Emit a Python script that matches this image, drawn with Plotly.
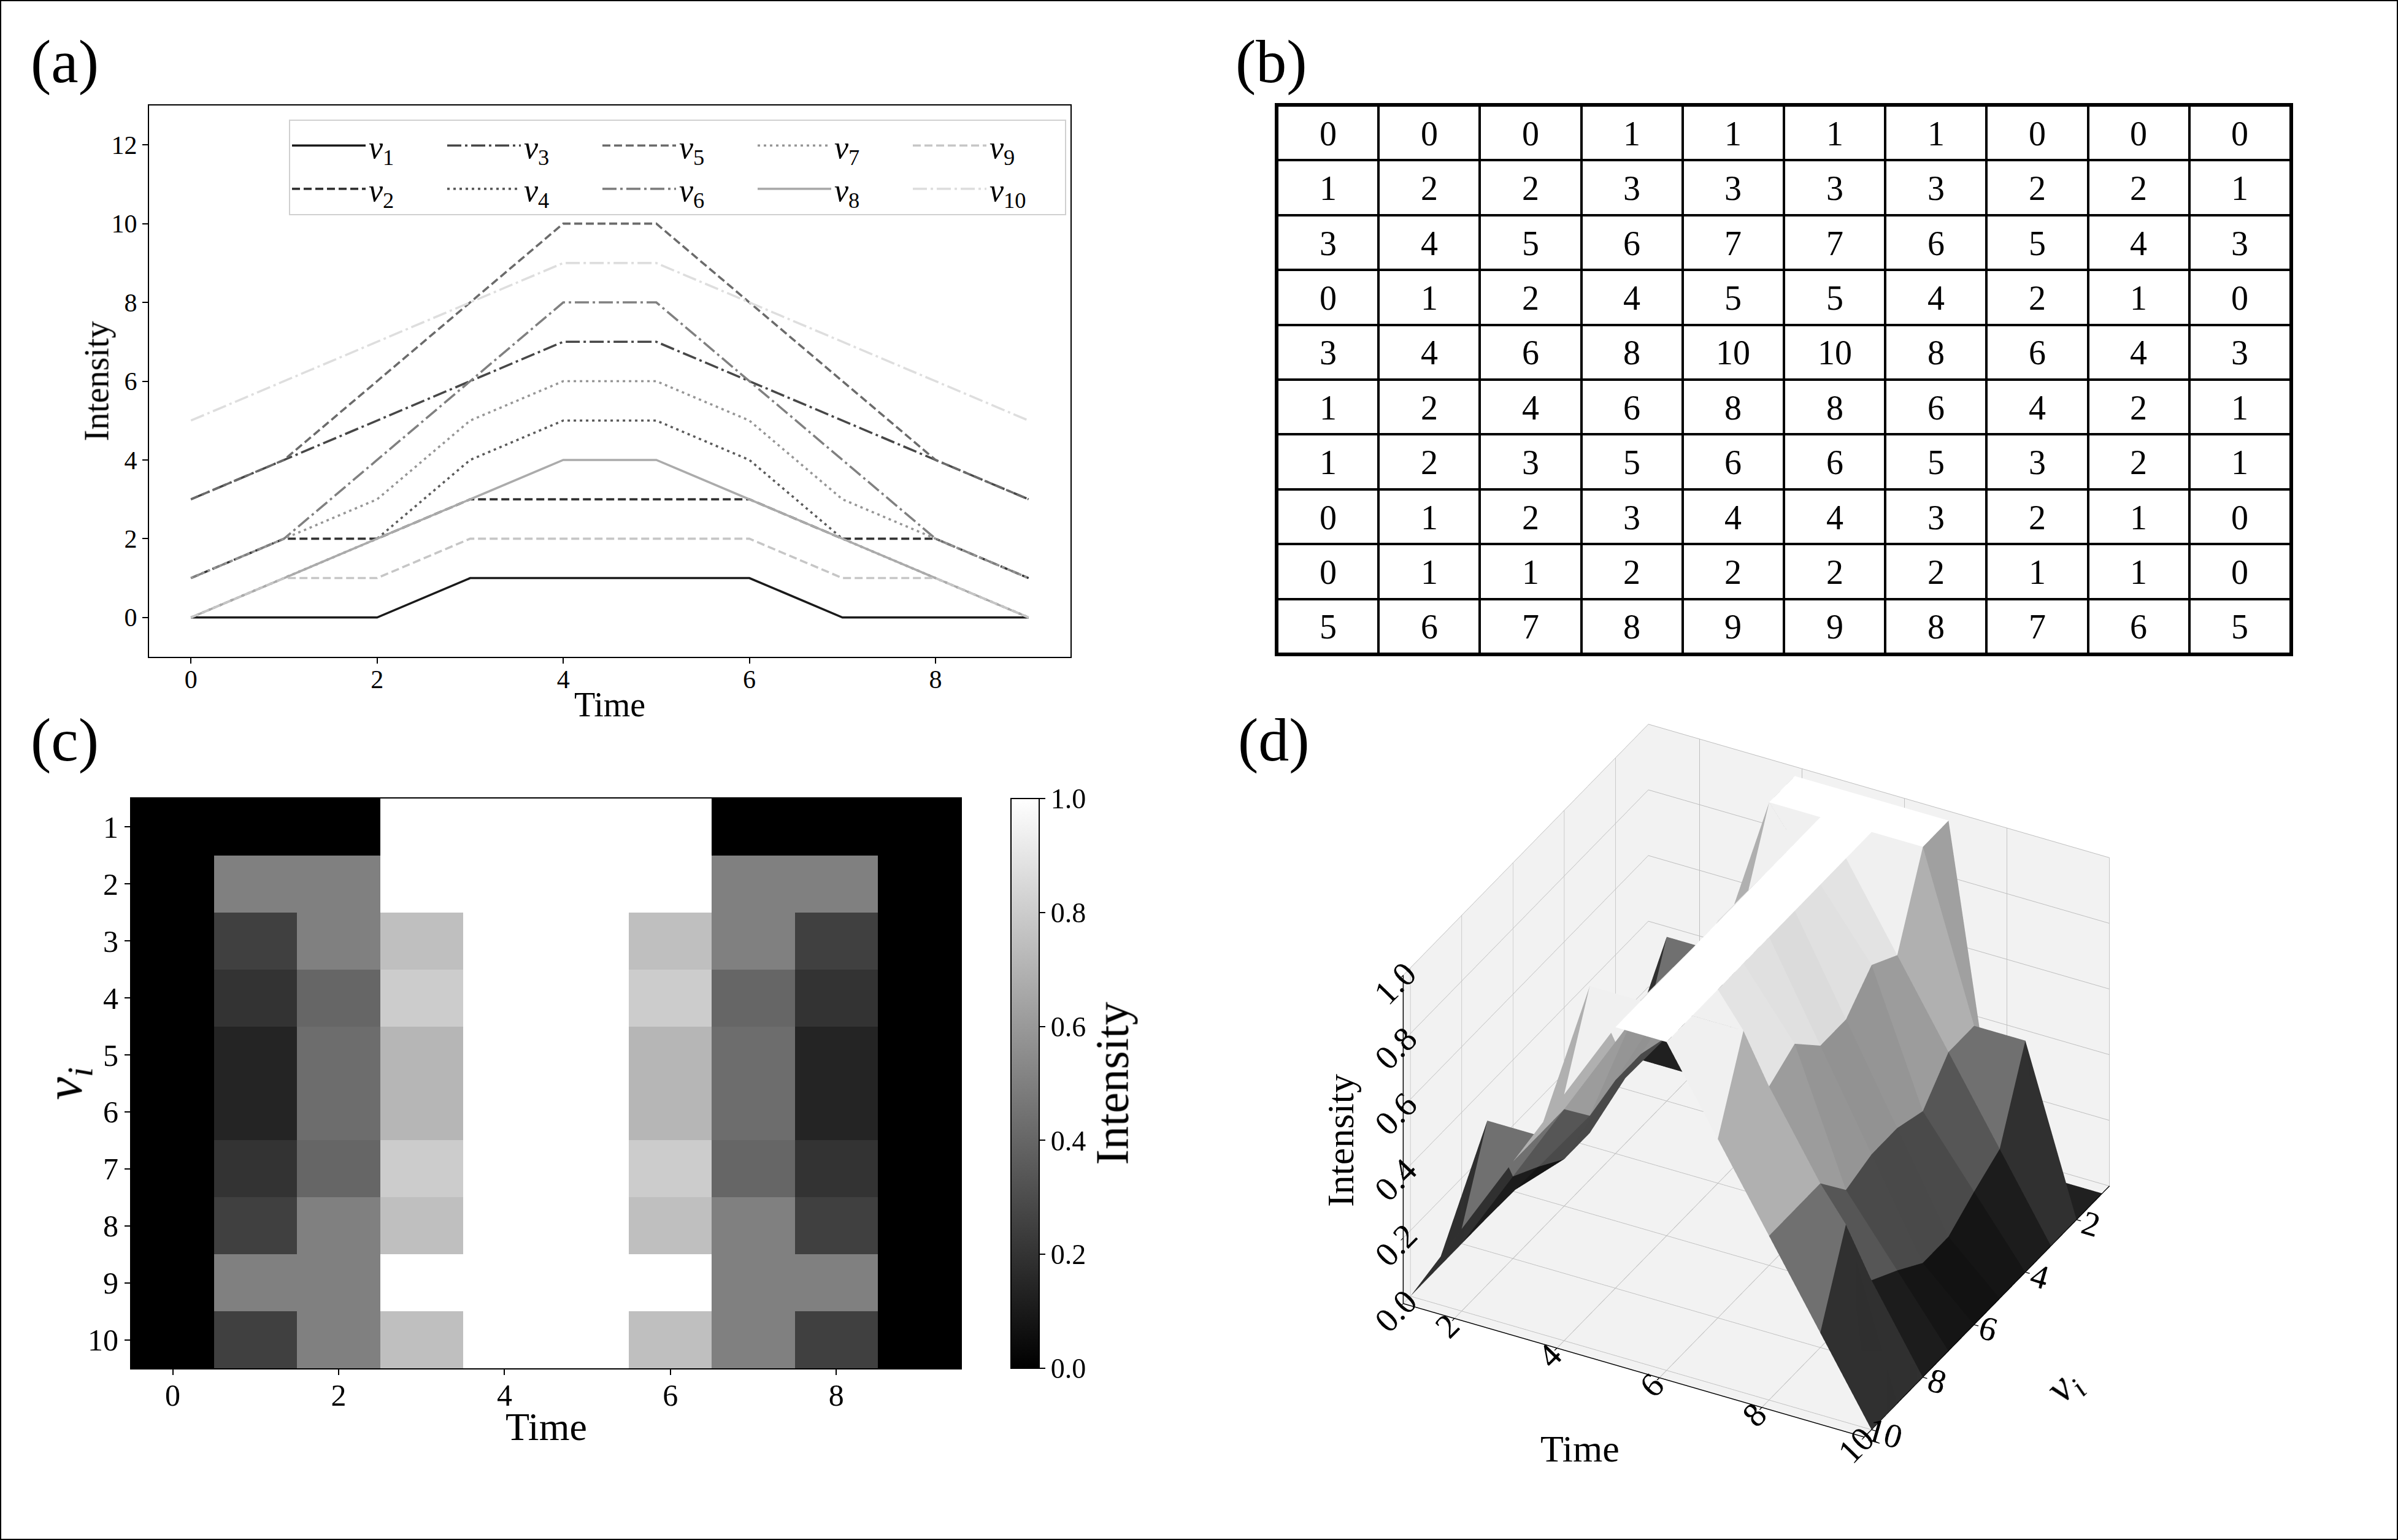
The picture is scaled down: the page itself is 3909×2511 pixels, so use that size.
import numpy as np
import plotly.graph_objects as go

# ---------------- data ----------------
times = [0, 1, 2, 3, 4, 5, 6, 7, 8, 9]
series_labels = ["v1", "v2", "v3", "v4", "v5", "v6", "v7", "v8", "v9", "v10"]
v1 = [0, 0, 0, 1, 1, 1, 1, 0, 0, 0]
v2 = [1, 2, 2, 3, 3, 3, 3, 2, 2, 1]
v3 = [3, 4, 5, 6, 7, 7, 6, 5, 4, 3]
v4 = [0, 1, 2, 4, 5, 5, 4, 2, 1, 0]
v5 = [3, 4, 6, 8, 10, 10, 8, 6, 4, 3]
v6 = [1, 2, 4, 6, 8, 8, 6, 4, 2, 1]
v7 = [1, 2, 3, 5, 6, 6, 5, 3, 2, 1]
v8 = [0, 1, 2, 3, 4, 4, 3, 2, 1, 0]
v9 = [0, 1, 1, 2, 2, 2, 2, 1, 1, 0]
v10 = [5, 6, 7, 8, 9, 9, 8, 7, 6, 5]
series = [v1, v2, v3, v4, v5, v6, v7, v8, v9, v10]
node_index = [1, 2, 3, 4, 5, 6, 7, 8, 9, 10]
time_3d = [1, 2, 3, 4, 5, 6, 7, 8, 9, 10]

# per-row min-max normalised intensity (as shown in panels c and d)
norm = []
for row in series:
    lo, hi = min(row), max(row)
    norm.append([(x - lo) / (hi - lo) for x in row])

# ---------------- style ----------------
FONT = "Liberation Serif"
W, H = 3909, 2511
LW = 3.6
line_colors = ["#1a1a1a", "#333333", "#474747", "#5a5a5a", "#6b6b6b",
               "#808080", "#969696", "#ababab", "#c6c6c6", "#dedede"]
SOLID = "solid"
DASH = "%.0fpx,%.0fpx" % (3.7 * LW, 1.6 * LW)
DASHDOT = "%.0fpx,%.0fpx,%.0fpx,%.0fpx" % (6.4 * LW, 1.6 * LW, 1.0 * LW, 1.6 * LW)
DOT = "%.0fpx,%.0fpx" % (1.0 * LW, 1.65 * LW)
line_dashes = [SOLID, DASH, DASHDOT, DOT, DASH, DASHDOT, DOT, SOLID, DASH, DASHDOT]

def px_x(p):
    return p / W

def px_y(p):
    return 1 - p / H

fig = go.Figure()

# ---------------- (a) line chart ----------------
for k, (name, vals) in enumerate(zip(series_labels, series)):
    fig.add_trace(go.Scatter(
        x=times, y=vals, mode="lines",
        name="<i>v</i><sub>%s</sub>" % name[1:],
        legendgroup="g%d" % (k // 2),
        line=dict(color=line_colors[k], width=LW, dash=line_dashes[k]),
        xaxis="x", yaxis="y", showlegend=True,
    ))

# ---------------- (b) value table (grid of cells with centred numbers) ----------------
table_cols = times
table_rows = list(range(10))
fig.add_trace(go.Heatmap(
    x=table_cols, y=table_rows, z=series,
    colorscale=[[0, "#000000"], [1, "#000000"]], showscale=False,
    xaxis="x3", yaxis="y3", hoverinfo="skip",
))
fig.add_trace(go.Heatmap(
    x=table_cols, y=table_rows, z=series, text=series,
    texttemplate="%{text}",
    textfont=dict(family=FONT, size=56, color="black"),
    colorscale=[[0, "#ffffff"], [1, "#ffffff"]], showscale=False,
    xgap=4, ygap=4,
    xaxis="x3", yaxis="y3", hoverinfo="skip",
))

# ---------------- (c) heatmap ----------------
fig.add_trace(go.Heatmap(
    x=times, y=node_index, z=norm, zmin=0, zmax=1,
    colorscale=[[0, "#000000"], [1, "#ffffff"]],
    xaxis="x2", yaxis="y2", showlegend=False,
    colorbar=dict(
        x=px_x(1648), xanchor="left", xpad=0, ypad=0,
        y=(px_y(2231) + px_y(1302)) / 2, yanchor="middle",
        len=(2231 - 1302) / H, lenmode="fraction",
        thickness=46, thicknessmode="pixels",
        outlinewidth=2, outlinecolor="black",
        ticks="outside", ticklen=9, tickwidth=2, tickcolor="black",
        tickvals=[0, 0.2, 0.4, 0.6, 0.8, 1.0],
        ticktext=["0.0", "0.2", "0.4", "0.6", "0.8", "1.0"],
        tickfont=dict(family=FONT, size=46, color="black"),
    ),
))

# ---------------- (d) 3D surface (faceted mesh) ----------------
nx, ny = len(time_3d), len(node_index)
vx, vy, vz = [], [], []
for i in range(ny):
    for j in range(nx):
        vx.append(time_3d[j])
        vy.append(node_index[i])
        vz.append(norm[i][j])
fi, fj, fk, fint = [], [], [], []
for i in range(ny - 1):
    for j in range(nx - 1):
        a = i * nx + j
        b = i * nx + j + 1
        c = (i + 1) * nx + j + 1
        d = (i + 1) * nx + j
        avg = (norm[i][j] + norm[i][j + 1] + norm[i + 1][j + 1] + norm[i + 1][j]) / 4
        fi += [a, a]; fj += [b, c]; fk += [c, d]; fint += [avg, avg]
fig.add_trace(go.Mesh3d(
    x=vx, y=vy, z=vz, i=fi, j=fj, k=fk,
    intensity=fint, intensitymode="cell", cmin=0, cmax=1,
    colorscale=[[0, "#000000"], [1, "#ffffff"]], showscale=False,
    flatshading=True,
    lighting=dict(ambient=1.0, diffuse=0.0, specular=0.0, roughness=1.0, fresnel=0.0),
    scene="scene", hoverinfo="skip",
))

# ---------------- layout ----------------
tick_a = dict(family=FONT, size=42, color="black")
tick_c = dict(family=FONT, size=50, color="black")

axis_common = dict(showline=True, mirror=True, linecolor="black", linewidth=2,
                   ticks="outside", ticklen=9, tickwidth=2, tickcolor="black",
                   showgrid=False, zeroline=False)

S3 = 26  # 3D tick text size
scene_axis = dict(showbackground=True, backgroundcolor="rgb(242,242,242)",
                  gridcolor="rgb(190,190,190)", gridwidth=2,
                  showline=True, linecolor="black", linewidth=3,
                  ticks="outside", tickcolor="black", ticklen=8, tickwidth=3,
                  zeroline=False, showspikes=False,
                  tickfont=dict(family=FONT, size=S3, color="black"))

def note(text, x, y, size, angle=0, anchor="center"):
    return dict(text=text, x=x, y=y, xref="paper", yref="paper", showarrow=False,
                xanchor=anchor, yanchor="middle", textangle=angle,
                font=dict(family=FONT, size=size, color="black"))

annotations = [
    note("(a)", px_x(48), px_y(100), 100, anchor="left"),
    note("(b)", px_x(2012), px_y(100), 100, anchor="left"),
    note("(c)", px_x(48), px_y(1206), 100, anchor="left"),
    note("(d)", px_x(2016), px_y(1206), 100, anchor="left"),
    # panel (a) axis titles
    note("Intensity", px_x(157), (px_y(1071) + px_y(172)) / 2, 56, angle=-90),
    note("Time", (px_x(243) + px_x(1745)) / 2, px_y(1149), 56),
    # panel (c) axis titles
    note("Time", (px_x(214) + px_x(1566)) / 2, px_y(2326), 64),
    note("<i>v<sub>i</sub></i>", px_x(110), (px_y(2231) + px_y(1302)) / 2, 84, angle=-90),
    note("Intensity", px_x(1812), (px_y(2231) + px_y(1302)) / 2, 76, angle=-90),
    # panel (d) axis titles
    note("Time", px_x(2575), px_y(2362), 62),
    note("<i>v<sub>i</sub></i>", px_x(3365), px_y(2262), 70, angle=-45),
    note("Intensity", px_x(2185), px_y(1860), 62, angle=-90),
]

EL, AZ, R = 33.0, -62.0, 2.0
ex = R * np.cos(np.radians(EL)) * np.cos(np.radians(AZ))
ey = R * np.cos(np.radians(EL)) * np.sin(np.radians(AZ))
ez = R * np.sin(np.radians(EL))
ZOOM = 1.33

fig.update_layout(
    width=W, height=H,
    margin=dict(l=0, r=0, t=0, b=0),
    paper_bgcolor="white", plot_bgcolor="white",
    font=dict(family=FONT, color="black"),
    xaxis=dict(domain=[px_x(243), px_x(1745)], anchor="y", range=[-0.45, 9.45],
               tickvals=[0, 2, 4, 6, 8], tickfont=tick_a, ticklabelstandoff=-10, **axis_common),
    yaxis=dict(domain=[px_y(1071), px_y(172)], anchor="x", range=[-1, 13],
               tickvals=[0, 2, 4, 6, 8, 10, 12], tickfont=tick_a, **axis_common),
    xaxis2=dict(domain=[px_x(214), px_x(1566)], anchor="y2", range=[-0.5, 9.5],
                tickvals=[0, 2, 4, 6, 8], tickfont=tick_c, ticklabelstandoff=-10, **axis_common),
    yaxis2=dict(domain=[px_y(2231), px_y(1302)], anchor="x2", range=[10.5, 0.5],
                tickvals=node_index, tickfont=tick_c, **axis_common),
    xaxis3=dict(domain=[px_x(2082), px_x(3734)], anchor="y3", range=[-0.5, 9.5],
                showticklabels=False, ticks="", showgrid=False, zeroline=False,
                showline=True, mirror=True, linecolor="black", linewidth=4),
    yaxis3=dict(domain=[px_y(1066), px_y(172)], anchor="x3", range=[9.5, -0.5],
                showticklabels=False, ticks="", showgrid=False, zeroline=False,
                showline=True, mirror=True, linecolor="black", linewidth=4),
    legend=dict(
        x=px_x(471), y=px_y(195), xanchor="left", yanchor="top",
        orientation="h", traceorder="grouped",
        entrywidth=118, entrywidthmode="pixels", itemwidth=120,
        tracegroupgap=0,
        bgcolor="white", bordercolor="#d0d0d0", borderwidth=2,
        font=dict(family=FONT, size=52, color="black"),
    ),
    scene=dict(
        domain=dict(x=[px_x(2113), px_x(3613)], y=[px_y(2402), px_y(1122)]),
        xaxis=dict(title=dict(text=""), range=[1, 10], tickvals=[2, 4, 6, 8, 10], **scene_axis),
        yaxis=dict(title=dict(text=""), autorange="reversed", tickvals=[2, 4, 6, 8, 10], **scene_axis),
        zaxis=dict(title=dict(text=""), range=[0, 1], tickvals=[0, 0.2, 0.4, 0.6, 0.8, 1.0],
                   ticktext=["0.0", "0.2", "0.4", "0.6", "0.8", "1.0"], **scene_axis),
        aspectmode="manual", aspectratio=dict(x=ZOOM, y=ZOOM, z=0.75 * ZOOM),
        camera=dict(eye=dict(x=ex, y=ey, z=ez), up=dict(x=0, y=0, z=1),
                    center=dict(x=0, y=0, z=0),
                    projection=dict(type="orthographic")),
    ),
    annotations=annotations,
    shapes=[dict(type="rect", xref="paper", yref="paper", x0=0, y0=0, x1=1, y1=1,
                 line=dict(color="black", width=4), fillcolor="rgba(0,0,0,0)")],
)

fig.write_html("out.html")
